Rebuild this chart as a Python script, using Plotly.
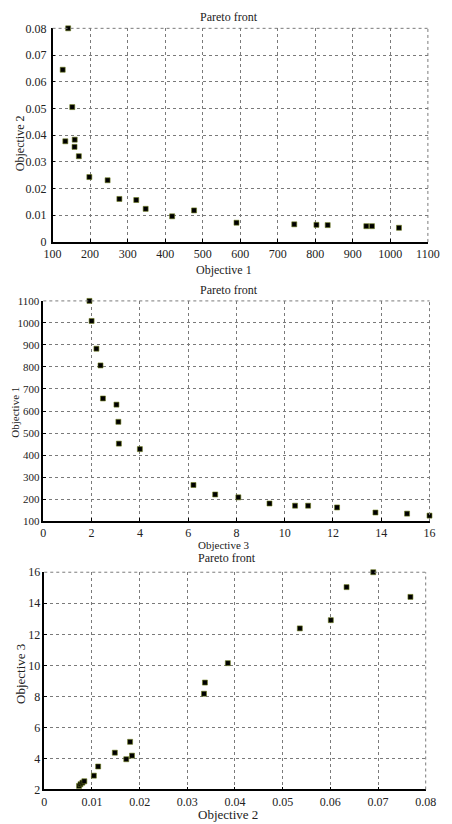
import plotly.graph_objects as go

# Plot 1: Objective 1 (x) vs Objective 2 (y)
obj1_a = [141.5, 127, 152.5, 134, 159, 158.5, 170, 198, 246.6, 278, 323, 348, 418.6, 477,
          590, 744, 803, 833, 936, 951, 1023]
obj2_a = [0.080, 0.0645, 0.0505, 0.0377, 0.0383, 0.0356, 0.0321, 0.0243, 0.0231, 0.0161, 0.0157,
          0.0124, 0.0096, 0.0118, 0.0072, 0.0066, 0.0064, 0.0063, 0.0059, 0.0059, 0.0053]

# Plot 2: Objective 3 (x) vs Objective 1 (y)
obj3_b = [1.91, 2.0, 2.20, 2.37, 2.47, 3.03, 3.11, 3.13, 4.0, 6.22, 7.12, 8.08, 9.37, 10.43,
          10.97, 12.17, 13.76, 15.07, 16.0]
obj1_b = [1100, 1009, 883, 807, 657, 629, 551, 452, 427, 264, 221, 208, 180, 170, 170, 162,
          139, 134, 125]

# Plot 3: Objective 2 (x) vs Objective 3 (y)
obj2_c = [0.0073, 0.0076, 0.0080, 0.0084, 0.0104, 0.0113, 0.0148, 0.0172, 0.0180, 0.0184,
          0.0335, 0.0337, 0.0385, 0.0536, 0.0601, 0.0634, 0.0690, 0.0768]
obj3_c = [2.23, 2.34, 2.44, 2.53, 2.89, 3.48, 4.37, 3.95, 5.07, 4.18, 8.17, 8.89, 10.14,
          12.38, 12.91, 15.04, 16.0, 14.41]

W, H = 452, 824
FONT = "Liberation Serif"
TXT = "#222"

def px_x(p):
    return p / W

def px_y(p):
    return 1 - p / H

marker = dict(symbol="square", size=5, color="black", line=dict(color="#6f7d1c", width=0.6))

fig = go.Figure()
fig.add_trace(go.Scatter(x=obj1_a, y=obj2_a, mode="markers", marker=marker, cliponaxis=False,
                         xaxis="x", yaxis="y"))
fig.add_trace(go.Scatter(x=obj3_b, y=obj1_b, mode="markers", marker=marker, cliponaxis=False,
                         xaxis="x2", yaxis="y2"))
fig.add_trace(go.Scatter(x=obj2_c, y=obj3_c, mode="markers", marker=marker, cliponaxis=False,
                         xaxis="x3", yaxis="y3"))

def ax(domain, rng, dtick, anchor, tick0, fsize=12, standoff=None):
    d = dict(domain=domain, range=rng, dtick=dtick, tick0=tick0, anchor=anchor,
             showgrid=True, gridcolor="#7a7a7a", griddash="dot", gridwidth=1,
             showline=True, linecolor="black", linewidth=1.5, mirror=False,
             ticks="inside", ticklen=3, tickcolor="black", zeroline=False,
             tickfont=dict(family=FONT, size=fsize, color=TXT), fixedrange=True)
    if standoff is not None:
        d["ticklabelstandoff"] = standoff
    return d

boxes = [
    (45.7, 439.3, 21.7, 239),
    (36, 441, 299, 523),
    (37, 437, 575, 796),
]

layout = dict(
    width=W, height=H, margin=dict(l=0, r=0, t=0, b=0),
    paper_bgcolor="white", plot_bgcolor="white", showlegend=False,
    xaxis=ax([px_x(boxes[0][0]), px_x(boxes[0][1])], [100, 1100], 100, "y", 100),
    yaxis=ax([px_y(boxes[0][3]), px_y(boxes[0][2])], [0, 0.08], 0.01, "x", 0, standoff=2),
    xaxis2=ax([px_x(boxes[1][0]), px_x(boxes[1][1])], [0, 16], 2, "y2", 0),
    yaxis2=ax([px_y(boxes[1][3]), px_y(boxes[1][2])], [100, 1100], 100, "x2", 100, fsize=11),
    xaxis3=ax([px_x(boxes[2][0]), px_x(boxes[2][1])], [0, 0.08], 0.01, "y3", 0),
    yaxis3=ax([px_y(boxes[2][3]), px_y(boxes[2][2])], [2, 16], 2, "x3", 2),
)
fig.update_layout(**layout)

# top/right borders as dotted lines
shapes = []
for i, (xl, xr, yt, yb) in enumerate(boxes):
    suf = "" if i == 0 else str(i + 1)
    shapes.append(dict(type="line", xref=f"x{suf} domain", yref=f"y{suf} domain",
                       x0=0, x1=1, y0=1, y1=1, line=dict(color="#7a7a7a", width=1, dash="dot")))
    shapes.append(dict(type="line", xref=f"x{suf} domain", yref=f"y{suf} domain",
                       x0=1, x1=1, y0=0, y1=1, line=dict(color="#7a7a7a", width=1, dash="dot")))
fig.update_layout(shapes=shapes)

ann = []
def text(t, x, y, angle=0, size=12):
    ann.append(dict(text=t, x=px_x(x), y=px_y(y), xref="paper", yref="paper",
                    showarrow=False, textangle=angle, xanchor="center", yanchor="middle",
                    font=dict(family=FONT, size=size, color=TXT)))

text("Pareto front", 231, 10)
text("Objective 1", 225, 268, size=12)
text("Objective 2", 11, 138, angle=-90, size=12)

text("Pareto front", 231, 288)
text("Objective 3", 225, 547, size=11)
text("Objective 1", 6, 412, angle=-90, size=11)

text("Pareto front", 229, 561)
text("Objective 2", 230, 821, size=13)
text("Objective 3", 12, 678, angle=-90, size=13)

fig.update_layout(annotations=ann)
fig.write_html("out.html")
